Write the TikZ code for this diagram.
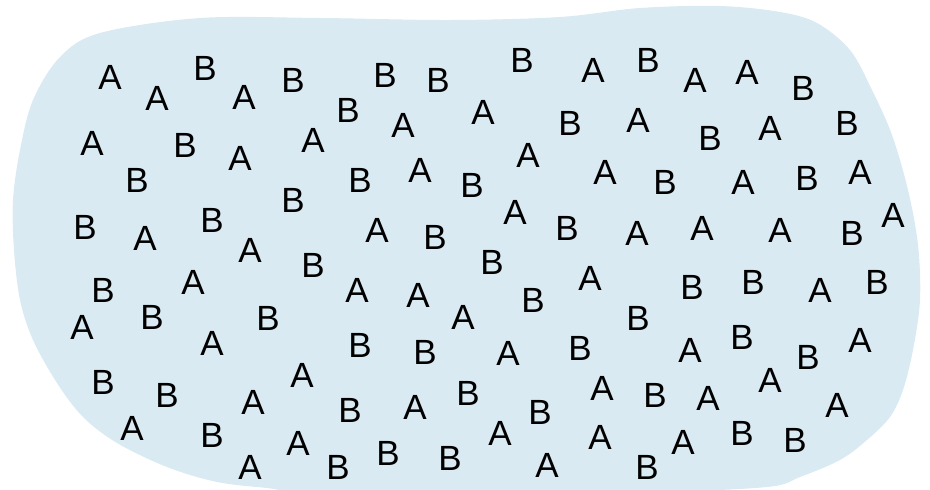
\documentclass[tikz,border=0pt]{standalone}
\usepackage{fontspec}
\setmainfont{Liberation Sans}
\definecolor{blob}{RGB}{217,234,243}
\begin{document}
\begin{tikzpicture}[x=1pt,y=-1pt,
  lt/.style={font=\fontsize{35}{35}\selectfont, inner sep=0pt, anchor=center, text=black}]
\useasboundingbox (0,0) rectangle (930,490);
\fill[blob] plot[smooth cycle, tension=0.55] coordinates {
 (13,200) (20,150) (33,100) (60,57) (100,33) (200,18) (320,18) (450,20) (560,17) (640,8) (720,6)
 (780,12) (817,23) (850,50) (872,90) (892,135) (908,190) (918,245) (920,300) (913,350) (903,390)
 (890,417) (867,440) (840,460) (800,477) (767,487) (650,492) (450,492) (300,491) (267,488)
 (217,482) (167,467) (117,443) (83,417) (57,383) (33,340) (20,300) (14,250)};
\foreach \t/\x/\y [count=\i] in {
 A/110/77, A/157/98, B/205/68, A/244/97, B/293/80, B/385/75, B/438/80, B/522/60, A/593/70,
 B/648/60, A/695/80, A/747/72, B/803/88,
 A/92/143, B/185/145, A/240/158, A/313/140, B/348/110, A/403/125, A/483/112, B/570/123,
 A/638/120, B/710/138, A/770/128, B/847/123,
 B/137/180, B/293/200, B/360/180, A/420/170, B/472/185, A/528/155, A/605/172, B/665/182,
 A/743/182, B/807/178, A/860/172,
 B/85/227, A/145/238, B/212/220, A/250/250, A/377/230, B/435/237, A/515/212, B/567/228,
 A/637/233, A/702/228, A/780/230, B/852/233, A/893/215,
 B/313/265, B/103/290, A/193/282, A/357/290, A/418/295, A/463/317, B/492/262, B/533/300,
 A/590/278, B/692/287, B/753/282, A/820/290, B/877/282,
 A/82/327, B/152/317, B/268/318, A/212/343, B/360/345, B/425/352, A/508/353, B/580/348,
 B/638/318, A/690/350, B/742/337, B/808/357, A/860/340,
 B/103/382, B/167/395, A/302/375, A/253/402, B/350/410, A/415/407, B/468/393, B/540/412,
 A/602/388, B/655/395, A/708/398, A/770/380, A/837/405,
 A/132/428, B/212/435, A/298/443, A/250/467, B/338/467, B/388/453, B/450/458, A/500/433,
 A/547/465, A/600/437, B/647/467, A/683/442, B/742/433, B/795/440}
 \node[lt] (l\i) at (\x,\y) {\t};
\end{tikzpicture}
\end{document}
